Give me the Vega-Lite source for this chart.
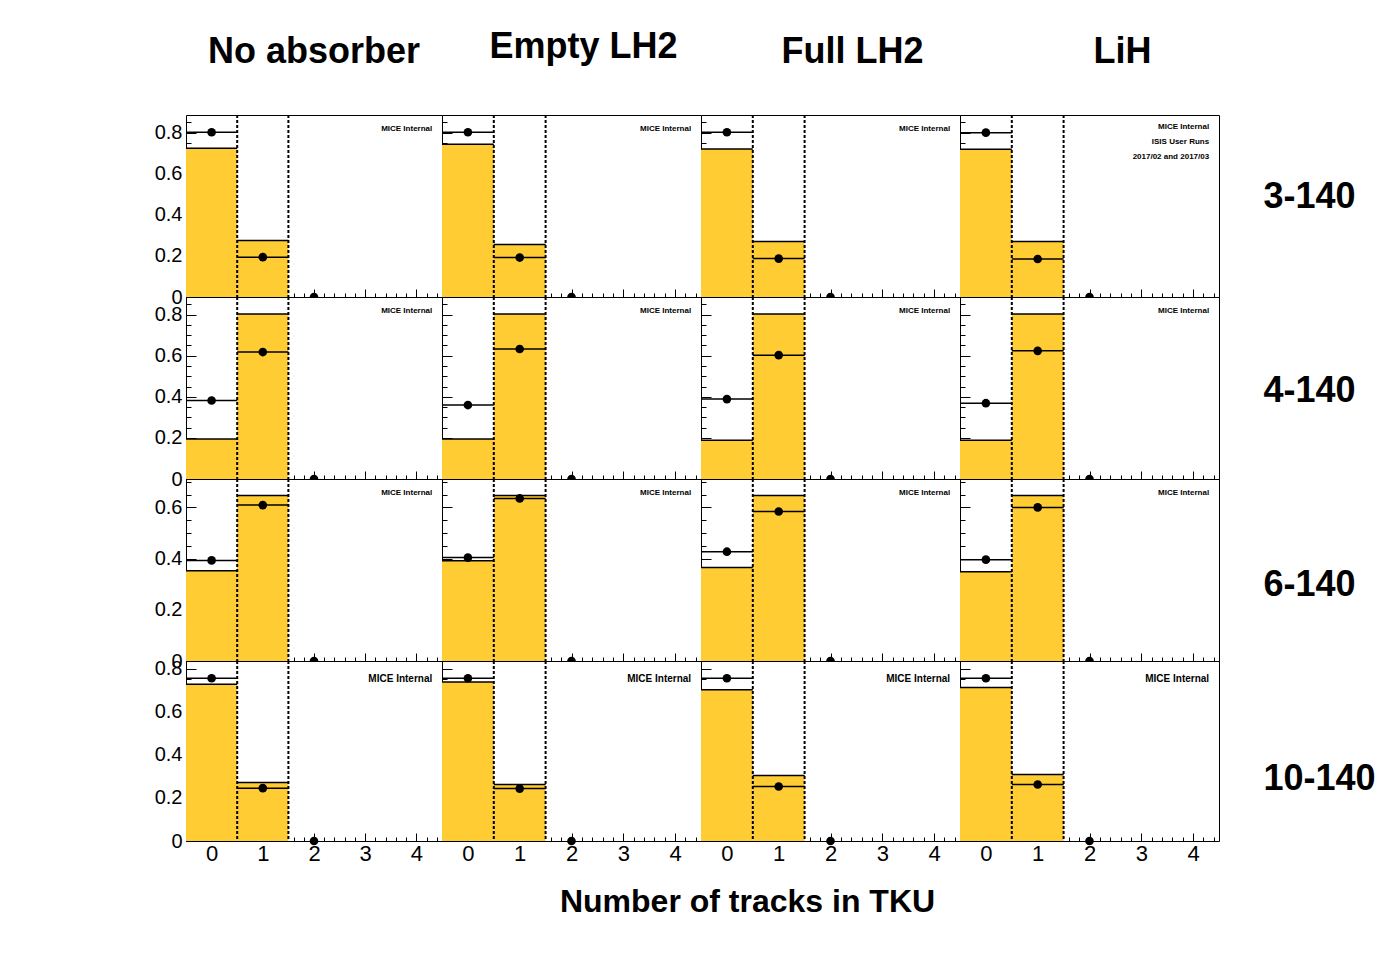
{
"$schema":"https://vega.github.io/schema/vega-lite/v6.json",
"background":"white",
"padding":{"left":153,"top":28,"right":5,"bottom":5},
"config":{"font":"Liberation Sans","view":{"stroke":"black","strokeWidth":1},
"axis":{"grid":false,"domain":false,"tickColor":"black","labelColor":"black","titleColor":"black","labelFlush":false,"tickWidth":1},
"title":{"fontSize":36,"fontWeight":"bold","baseline":"alphabetic","frame":"group","color":"black","anchor":"middle"}},
"datasets":{"h":[
{"r":"3-140","a":"No absorber","x":0,"lo":-0.5,"hi":0.5,"bar":0.724,"pt":0.802},
{"r":"3-140","a":"No absorber","x":1,"lo":0.5,"hi":1.5,"bar":0.275,"pt":0.194},
{"r":"3-140","a":"No absorber","x":2,"lo":1.5,"hi":2.5,"bar":0,"pt":0},
{"r":"3-140","a":"Empty LH2","x":0,"lo":-0.5,"hi":0.5,"bar":0.743,"pt":0.802},
{"r":"3-140","a":"Empty LH2","x":1,"lo":0.5,"hi":1.5,"bar":0.255,"pt":0.192},
{"r":"3-140","a":"Empty LH2","x":2,"lo":1.5,"hi":2.5,"bar":0,"pt":0},
{"r":"3-140","a":"Full LH2","x":0,"lo":-0.5,"hi":0.5,"bar":0.720,"pt":0.802},
{"r":"3-140","a":"Full LH2","x":1,"lo":0.5,"hi":1.5,"bar":0.270,"pt":0.187},
{"r":"3-140","a":"Full LH2","x":2,"lo":1.5,"hi":2.5,"bar":0,"pt":0},
{"r":"3-140","a":"LiH","x":0,"lo":-0.5,"hi":0.5,"bar":0.719,"pt":0.800},
{"r":"3-140","a":"LiH","x":1,"lo":0.5,"hi":1.5,"bar":0.270,"pt":0.185},
{"r":"3-140","a":"LiH","x":2,"lo":1.5,"hi":2.5,"bar":0,"pt":0},
{"r":"4-140","a":"No absorber","x":0,"lo":-0.5,"hi":0.5,"bar":0.195,"pt":0.382},
{"r":"4-140","a":"No absorber","x":1,"lo":0.5,"hi":1.5,"bar":0.803,"pt":0.618},
{"r":"4-140","a":"No absorber","x":2,"lo":1.5,"hi":2.5,"bar":0,"pt":0},
{"r":"4-140","a":"Empty LH2","x":0,"lo":-0.5,"hi":0.5,"bar":0.195,"pt":0.360},
{"r":"4-140","a":"Empty LH2","x":1,"lo":0.5,"hi":1.5,"bar":0.803,"pt":0.633},
{"r":"4-140","a":"Empty LH2","x":2,"lo":1.5,"hi":2.5,"bar":0,"pt":0},
{"r":"4-140","a":"Full LH2","x":0,"lo":-0.5,"hi":0.5,"bar":0.189,"pt":0.389},
{"r":"4-140","a":"Full LH2","x":1,"lo":0.5,"hi":1.5,"bar":0.803,"pt":0.603},
{"r":"4-140","a":"Full LH2","x":2,"lo":1.5,"hi":2.5,"bar":0,"pt":0},
{"r":"4-140","a":"LiH","x":0,"lo":-0.5,"hi":0.5,"bar":0.189,"pt":0.369},
{"r":"4-140","a":"LiH","x":1,"lo":0.5,"hi":1.5,"bar":0.803,"pt":0.624},
{"r":"4-140","a":"LiH","x":2,"lo":1.5,"hi":2.5,"bar":0,"pt":0},
{"r":"6-140","a":"No absorber","x":0,"lo":-0.5,"hi":0.5,"bar":0.353,"pt":0.393},
{"r":"6-140","a":"No absorber","x":1,"lo":0.5,"hi":1.5,"bar":0.647,"pt":0.609},
{"r":"6-140","a":"No absorber","x":2,"lo":1.5,"hi":2.5,"bar":0,"pt":0},
{"r":"6-140","a":"Empty LH2","x":0,"lo":-0.5,"hi":0.5,"bar":0.392,"pt":0.404},
{"r":"6-140","a":"Empty LH2","x":1,"lo":0.5,"hi":1.5,"bar":0.647,"pt":0.635},
{"r":"6-140","a":"Empty LH2","x":2,"lo":1.5,"hi":2.5,"bar":0,"pt":0},
{"r":"6-140","a":"Full LH2","x":0,"lo":-0.5,"hi":0.5,"bar":0.365,"pt":0.427},
{"r":"6-140","a":"Full LH2","x":1,"lo":0.5,"hi":1.5,"bar":0.647,"pt":0.584},
{"r":"6-140","a":"Full LH2","x":2,"lo":1.5,"hi":2.5,"bar":0,"pt":0},
{"r":"6-140","a":"LiH","x":0,"lo":-0.5,"hi":0.5,"bar":0.349,"pt":0.396},
{"r":"6-140","a":"LiH","x":1,"lo":0.5,"hi":1.5,"bar":0.647,"pt":0.600},
{"r":"6-140","a":"LiH","x":2,"lo":1.5,"hi":2.5,"bar":0,"pt":0},
{"r":"10-140","a":"No absorber","x":0,"lo":-0.5,"hi":0.5,"bar":0.727,"pt":0.755},
{"r":"10-140","a":"No absorber","x":1,"lo":0.5,"hi":1.5,"bar":0.271,"pt":0.245},
{"r":"10-140","a":"No absorber","x":2,"lo":1.5,"hi":2.5,"bar":0,"pt":0},
{"r":"10-140","a":"Empty LH2","x":0,"lo":-0.5,"hi":0.5,"bar":0.738,"pt":0.755},
{"r":"10-140","a":"Empty LH2","x":1,"lo":0.5,"hi":1.5,"bar":0.262,"pt":0.243},
{"r":"10-140","a":"Empty LH2","x":2,"lo":1.5,"hi":2.5,"bar":0,"pt":0},
{"r":"10-140","a":"Full LH2","x":0,"lo":-0.5,"hi":0.5,"bar":0.702,"pt":0.755},
{"r":"10-140","a":"Full LH2","x":1,"lo":0.5,"hi":1.5,"bar":0.304,"pt":0.253},
{"r":"10-140","a":"Full LH2","x":2,"lo":1.5,"hi":2.5,"bar":0,"pt":0},
{"r":"10-140","a":"LiH","x":0,"lo":-0.5,"hi":0.5,"bar":0.712,"pt":0.755},
{"r":"10-140","a":"LiH","x":1,"lo":0.5,"hi":1.5,"bar":0.309,"pt":0.262},
{"r":"10-140","a":"LiH","x":2,"lo":1.5,"hi":2.5,"bar":0,"pt":0}
]},
"data":{"name":"h"},
"spacing":0,
"bounds":"flush",
"columns":4,
"concat":[
{"width":256,"height":182,"title":{"text":"No absorber","dx":0,"offset":43},
"transform":[{"filter":"datum.r=='3-140' && datum.a=='No absorber'"}],
"layer":[
{"transform":[{"filter":"datum.x<2"}],"mark":{"type":"rect","fill":"#ffcc33"},"encoding":{"x":{"field":"lo","type":"quantitative","scale":{"domain":[-0.5,4.5],"nice":false,"zero":false},"axis":{"orient":"bottom","values":[0,1,2,3,4],"tickSize":8,"offset":-8,"labels":false,"title":null}},"x2":{"field":"hi"},"y":{"field":"bar","type":"quantitative","scale":{"domain":[0,0.886],"nice":false},"axis":{"orient":"left","values":[0,0.2,0.4,0.6,0.8],"tickSize":10,"offset":-10,"labels":false,"title":null}},"y2":{"datum":0}}},
{"transform":[{"filter":"datum.x<2"}],"mark":{"type":"rule","color":"black","strokeWidth":1.5},"encoding":{"x":{"field":"lo","type":"quantitative","scale":{"domain":[-0.5,4.5],"nice":false,"zero":false},"axis":{"orient":"bottom","values":[-0.4,-0.2,0,0.2,0.4,0.6,0.8,1,1.2,1.4,1.6,1.8,2,2.2,2.4,2.6,2.8,3,3.2,3.4,3.6,3.8,4,4.2,4.4],"tickSize":4,"offset":-4,"labels":false,"title":null}},"x2":{"field":"hi"},"y":{"field":"bar","type":"quantitative","scale":{"domain":[0,0.886],"nice":false},"axis":{"orient":"left","values":[0,0.05,0.1,0.15,0.2,0.25,0.3,0.35,0.4,0.45,0.5,0.55,0.6,0.65,0.7,0.75,0.8,0.85],"tickSize":5,"offset":-5,"labels":false,"title":null}}}},
{"transform":[{"filter":"datum.x<2"}],"mark":{"type":"rule","color":"black","strokeWidth":2,"strokeDash":[3,2]},"encoding":{"x":{"field":"hi","type":"quantitative","scale":{"domain":[-0.5,4.5],"nice":false,"zero":false},"axis":null}}},
{"transform":[{"filter":"datum.x<2"}],"mark":{"type":"rule","color":"black","strokeWidth":1.5},"encoding":{"x":{"field":"lo","type":"quantitative","scale":{"domain":[-0.5,4.5],"nice":false,"zero":false},"axis":null},"x2":{"field":"hi"},"y":{"field":"pt","type":"quantitative","scale":{"domain":[0,0.886],"nice":false},"axis":null}}},
{"mark":{"type":"circle","color":"black","opacity":1,"size":75,"clip":true},"encoding":{"x":{"field":"x","type":"quantitative","scale":{"domain":[-0.5,4.5],"nice":false,"zero":false},"axis":null},"y":{"field":"pt","type":"quantitative","scale":{"domain":[0,0.886],"nice":false},"axis":{"orient":"left","values":[0,0.2,0.4,0.6,0.8],"ticks":false,"labelFontSize":20,"labelPadding":4,"title":null,"labelExpr":"datum.value == 0 ? '0' : format(datum.value, '.1f')"}}}},
{"transform":[{"filter":"datum.x==0"}],"mark":{"type":"text","text":"MICE Internal","align":"right","baseline":"middle","fontSize":8,"fontWeight":"bold","color":"black"},"encoding":{"x":{"datum":4.31,"type":"quantitative","scale":{"domain":[-0.5,4.5],"nice":false,"zero":false},"axis":null},"y":{"datum":0.818,"type":"quantitative","scale":{"domain":[0,0.886],"nice":false},"axis":null}}}
],"resolve":{"axis":{"x":"independent","y":"independent"}}},
{"width":259,"height":182,"title":{"text":"Empty LH2","dx":12,"offset":48},
"transform":[{"filter":"datum.r=='3-140' && datum.a=='Empty LH2'"}],
"layer":[
{"transform":[{"filter":"datum.x<2"}],"mark":{"type":"rect","fill":"#ffcc33"},"encoding":{"x":{"field":"lo","type":"quantitative","scale":{"domain":[-0.5,4.5],"nice":false,"zero":false},"axis":{"orient":"bottom","values":[0,1,2,3,4],"tickSize":8,"offset":-8,"labels":false,"title":null}},"x2":{"field":"hi"},"y":{"field":"bar","type":"quantitative","scale":{"domain":[0,0.886],"nice":false},"axis":{"orient":"left","values":[0,0.2,0.4,0.6,0.8],"tickSize":10,"offset":-10,"labels":false,"title":null}},"y2":{"datum":0}}},
{"transform":[{"filter":"datum.x<2"}],"mark":{"type":"rule","color":"black","strokeWidth":1.5},"encoding":{"x":{"field":"lo","type":"quantitative","scale":{"domain":[-0.5,4.5],"nice":false,"zero":false},"axis":{"orient":"bottom","values":[-0.4,-0.2,0,0.2,0.4,0.6,0.8,1,1.2,1.4,1.6,1.8,2,2.2,2.4,2.6,2.8,3,3.2,3.4,3.6,3.8,4,4.2,4.4],"tickSize":4,"offset":-4,"labels":false,"title":null}},"x2":{"field":"hi"},"y":{"field":"bar","type":"quantitative","scale":{"domain":[0,0.886],"nice":false},"axis":{"orient":"left","values":[0,0.05,0.1,0.15,0.2,0.25,0.3,0.35,0.4,0.45,0.5,0.55,0.6,0.65,0.7,0.75,0.8,0.85],"tickSize":5,"offset":-5,"labels":false,"title":null}}}},
{"transform":[{"filter":"datum.x<2"}],"mark":{"type":"rule","color":"black","strokeWidth":2,"strokeDash":[3,2]},"encoding":{"x":{"field":"hi","type":"quantitative","scale":{"domain":[-0.5,4.5],"nice":false,"zero":false},"axis":null}}},
{"transform":[{"filter":"datum.x<2"}],"mark":{"type":"rule","color":"black","strokeWidth":1.5},"encoding":{"x":{"field":"lo","type":"quantitative","scale":{"domain":[-0.5,4.5],"nice":false,"zero":false},"axis":null},"x2":{"field":"hi"},"y":{"field":"pt","type":"quantitative","scale":{"domain":[0,0.886],"nice":false},"axis":null}}},
{"mark":{"type":"circle","color":"black","opacity":1,"size":75,"clip":true},"encoding":{"x":{"field":"x","type":"quantitative","scale":{"domain":[-0.5,4.5],"nice":false,"zero":false},"axis":null},"y":{"field":"pt","type":"quantitative","scale":{"domain":[0,0.886],"nice":false},"axis":null}}},
{"transform":[{"filter":"datum.x==0"}],"mark":{"type":"text","text":"MICE Internal","align":"right","baseline":"middle","fontSize":8,"fontWeight":"bold","color":"black"},"encoding":{"x":{"datum":4.31,"type":"quantitative","scale":{"domain":[-0.5,4.5],"nice":false,"zero":false},"axis":null},"y":{"datum":0.818,"type":"quantitative","scale":{"domain":[0,0.886],"nice":false},"axis":null}}}
],"resolve":{"axis":{"x":"independent","y":"independent"}}},
{"width":259,"height":182,"title":{"text":"Full LH2","dx":22,"offset":43},
"transform":[{"filter":"datum.r=='3-140' && datum.a=='Full LH2'"}],
"layer":[
{"transform":[{"filter":"datum.x<2"}],"mark":{"type":"rect","fill":"#ffcc33"},"encoding":{"x":{"field":"lo","type":"quantitative","scale":{"domain":[-0.5,4.5],"nice":false,"zero":false},"axis":{"orient":"bottom","values":[0,1,2,3,4],"tickSize":8,"offset":-8,"labels":false,"title":null}},"x2":{"field":"hi"},"y":{"field":"bar","type":"quantitative","scale":{"domain":[0,0.886],"nice":false},"axis":{"orient":"left","values":[0,0.2,0.4,0.6,0.8],"tickSize":10,"offset":-10,"labels":false,"title":null}},"y2":{"datum":0}}},
{"transform":[{"filter":"datum.x<2"}],"mark":{"type":"rule","color":"black","strokeWidth":1.5},"encoding":{"x":{"field":"lo","type":"quantitative","scale":{"domain":[-0.5,4.5],"nice":false,"zero":false},"axis":{"orient":"bottom","values":[-0.4,-0.2,0,0.2,0.4,0.6,0.8,1,1.2,1.4,1.6,1.8,2,2.2,2.4,2.6,2.8,3,3.2,3.4,3.6,3.8,4,4.2,4.4],"tickSize":4,"offset":-4,"labels":false,"title":null}},"x2":{"field":"hi"},"y":{"field":"bar","type":"quantitative","scale":{"domain":[0,0.886],"nice":false},"axis":{"orient":"left","values":[0,0.05,0.1,0.15,0.2,0.25,0.3,0.35,0.4,0.45,0.5,0.55,0.6,0.65,0.7,0.75,0.8,0.85],"tickSize":5,"offset":-5,"labels":false,"title":null}}}},
{"transform":[{"filter":"datum.x<2"}],"mark":{"type":"rule","color":"black","strokeWidth":2,"strokeDash":[3,2]},"encoding":{"x":{"field":"hi","type":"quantitative","scale":{"domain":[-0.5,4.5],"nice":false,"zero":false},"axis":null}}},
{"transform":[{"filter":"datum.x<2"}],"mark":{"type":"rule","color":"black","strokeWidth":1.5},"encoding":{"x":{"field":"lo","type":"quantitative","scale":{"domain":[-0.5,4.5],"nice":false,"zero":false},"axis":null},"x2":{"field":"hi"},"y":{"field":"pt","type":"quantitative","scale":{"domain":[0,0.886],"nice":false},"axis":null}}},
{"mark":{"type":"circle","color":"black","opacity":1,"size":75,"clip":true},"encoding":{"x":{"field":"x","type":"quantitative","scale":{"domain":[-0.5,4.5],"nice":false,"zero":false},"axis":null},"y":{"field":"pt","type":"quantitative","scale":{"domain":[0,0.886],"nice":false},"axis":null}}},
{"transform":[{"filter":"datum.x==0"}],"mark":{"type":"text","text":"MICE Internal","align":"right","baseline":"middle","fontSize":8,"fontWeight":"bold","color":"black"},"encoding":{"x":{"datum":4.31,"type":"quantitative","scale":{"domain":[-0.5,4.5],"nice":false,"zero":false},"axis":null},"y":{"datum":0.818,"type":"quantitative","scale":{"domain":[0,0.886],"nice":false},"axis":null}}}
],"resolve":{"axis":{"x":"independent","y":"independent"}}},
{"width":259,"height":182,"title":{"text":"LiH","dx":33,"offset":43},
"transform":[{"filter":"datum.r=='3-140' && datum.a=='LiH'"}],
"layer":[
{"transform":[{"filter":"datum.x<2"}],"mark":{"type":"rect","fill":"#ffcc33"},"encoding":{"x":{"field":"lo","type":"quantitative","scale":{"domain":[-0.5,4.5],"nice":false,"zero":false},"axis":{"orient":"bottom","values":[0,1,2,3,4],"tickSize":8,"offset":-8,"labels":false,"title":null}},"x2":{"field":"hi"},"y":{"field":"bar","type":"quantitative","scale":{"domain":[0,0.886],"nice":false},"axis":{"orient":"left","values":[0,0.2,0.4,0.6,0.8],"tickSize":10,"offset":-10,"labels":false,"title":null}},"y2":{"datum":0}}},
{"transform":[{"filter":"datum.x<2"}],"mark":{"type":"rule","color":"black","strokeWidth":1.5},"encoding":{"x":{"field":"lo","type":"quantitative","scale":{"domain":[-0.5,4.5],"nice":false,"zero":false},"axis":{"orient":"bottom","values":[-0.4,-0.2,0,0.2,0.4,0.6,0.8,1,1.2,1.4,1.6,1.8,2,2.2,2.4,2.6,2.8,3,3.2,3.4,3.6,3.8,4,4.2,4.4],"tickSize":4,"offset":-4,"labels":false,"title":null}},"x2":{"field":"hi"},"y":{"field":"bar","type":"quantitative","scale":{"domain":[0,0.886],"nice":false},"axis":{"orient":"left","values":[0,0.05,0.1,0.15,0.2,0.25,0.3,0.35,0.4,0.45,0.5,0.55,0.6,0.65,0.7,0.75,0.8,0.85],"tickSize":5,"offset":-5,"labels":false,"title":null}}}},
{"transform":[{"filter":"datum.x<2"}],"mark":{"type":"rule","color":"black","strokeWidth":2,"strokeDash":[3,2]},"encoding":{"x":{"field":"hi","type":"quantitative","scale":{"domain":[-0.5,4.5],"nice":false,"zero":false},"axis":null}}},
{"transform":[{"filter":"datum.x<2"}],"mark":{"type":"rule","color":"black","strokeWidth":1.5},"encoding":{"x":{"field":"lo","type":"quantitative","scale":{"domain":[-0.5,4.5],"nice":false,"zero":false},"axis":null},"x2":{"field":"hi"},"y":{"field":"pt","type":"quantitative","scale":{"domain":[0,0.886],"nice":false},"axis":{"orient":"right","values":[],"ticks":false,"labels":false,"title":"3-140","titleAngle":0,"titleFontSize":36,"titleFontWeight":"bold","titleAlign":"left","titleBaseline":"middle","titleX":44,"titleY":81}}}},
{"mark":{"type":"circle","color":"black","opacity":1,"size":75,"clip":true},"encoding":{"x":{"field":"x","type":"quantitative","scale":{"domain":[-0.5,4.5],"nice":false,"zero":false},"axis":null},"y":{"field":"pt","type":"quantitative","scale":{"domain":[0,0.886],"nice":false},"axis":null}}},
{"transform":[{"filter":"datum.x==0"}],"mark":{"type":"text","text":"MICE Internal\nISIS User Runs\n2017/02 and 2017/03","lineBreak":"\n","lineHeight":15,"align":"right","baseline":"middle","fontSize":8,"fontWeight":"bold","color":"black"},"encoding":{"x":{"datum":4.31,"type":"quantitative","scale":{"domain":[-0.5,4.5],"nice":false,"zero":false},"axis":null},"y":{"datum":0.828,"type":"quantitative","scale":{"domain":[0,0.886],"nice":false},"axis":null}}}
],"resolve":{"axis":{"x":"independent","y":"independent"}}},
{"width":256,"height":182,
"transform":[{"filter":"datum.r=='4-140' && datum.a=='No absorber'"}],
"layer":[
{"transform":[{"filter":"datum.x<2"}],"mark":{"type":"rect","fill":"#ffcc33"},"encoding":{"x":{"field":"lo","type":"quantitative","scale":{"domain":[-0.5,4.5],"nice":false,"zero":false},"axis":{"orient":"bottom","values":[0,1,2,3,4],"tickSize":8,"offset":-8,"labels":false,"title":null}},"x2":{"field":"hi"},"y":{"field":"bar","type":"quantitative","scale":{"domain":[0,0.886],"nice":false},"axis":{"orient":"left","values":[0,0.2,0.4,0.6,0.8],"tickSize":10,"offset":-10,"labels":false,"title":null}},"y2":{"datum":0}}},
{"transform":[{"filter":"datum.x<2"}],"mark":{"type":"rule","color":"black","strokeWidth":1.5},"encoding":{"x":{"field":"lo","type":"quantitative","scale":{"domain":[-0.5,4.5],"nice":false,"zero":false},"axis":{"orient":"bottom","values":[-0.4,-0.2,0,0.2,0.4,0.6,0.8,1,1.2,1.4,1.6,1.8,2,2.2,2.4,2.6,2.8,3,3.2,3.4,3.6,3.8,4,4.2,4.4],"tickSize":4,"offset":-4,"labels":false,"title":null}},"x2":{"field":"hi"},"y":{"field":"bar","type":"quantitative","scale":{"domain":[0,0.886],"nice":false},"axis":{"orient":"left","values":[0,0.05,0.1,0.15,0.2,0.25,0.3,0.35,0.4,0.45,0.5,0.55,0.6,0.65,0.7,0.75,0.8,0.85],"tickSize":5,"offset":-5,"labels":false,"title":null}}}},
{"transform":[{"filter":"datum.x<2"}],"mark":{"type":"rule","color":"black","strokeWidth":2,"strokeDash":[3,2]},"encoding":{"x":{"field":"hi","type":"quantitative","scale":{"domain":[-0.5,4.5],"nice":false,"zero":false},"axis":null}}},
{"transform":[{"filter":"datum.x<2"}],"mark":{"type":"rule","color":"black","strokeWidth":1.5},"encoding":{"x":{"field":"lo","type":"quantitative","scale":{"domain":[-0.5,4.5],"nice":false,"zero":false},"axis":null},"x2":{"field":"hi"},"y":{"field":"pt","type":"quantitative","scale":{"domain":[0,0.886],"nice":false},"axis":null}}},
{"mark":{"type":"circle","color":"black","opacity":1,"size":75,"clip":true},"encoding":{"x":{"field":"x","type":"quantitative","scale":{"domain":[-0.5,4.5],"nice":false,"zero":false},"axis":null},"y":{"field":"pt","type":"quantitative","scale":{"domain":[0,0.886],"nice":false},"axis":{"orient":"left","values":[0,0.2,0.4,0.6,0.8],"ticks":false,"labelFontSize":20,"labelPadding":4,"title":null,"labelExpr":"datum.value == 0 ? '0' : format(datum.value, '.1f')"}}}},
{"transform":[{"filter":"datum.x==0"}],"mark":{"type":"text","text":"MICE Internal","align":"right","baseline":"middle","fontSize":8,"fontWeight":"bold","color":"black"},"encoding":{"x":{"datum":4.31,"type":"quantitative","scale":{"domain":[-0.5,4.5],"nice":false,"zero":false},"axis":null},"y":{"datum":0.818,"type":"quantitative","scale":{"domain":[0,0.886],"nice":false},"axis":null}}}
],"resolve":{"axis":{"x":"independent","y":"independent"}}},
{"width":259,"height":182,
"transform":[{"filter":"datum.r=='4-140' && datum.a=='Empty LH2'"}],
"layer":[
{"transform":[{"filter":"datum.x<2"}],"mark":{"type":"rect","fill":"#ffcc33"},"encoding":{"x":{"field":"lo","type":"quantitative","scale":{"domain":[-0.5,4.5],"nice":false,"zero":false},"axis":{"orient":"bottom","values":[0,1,2,3,4],"tickSize":8,"offset":-8,"labels":false,"title":null}},"x2":{"field":"hi"},"y":{"field":"bar","type":"quantitative","scale":{"domain":[0,0.886],"nice":false},"axis":{"orient":"left","values":[0,0.2,0.4,0.6,0.8],"tickSize":10,"offset":-10,"labels":false,"title":null}},"y2":{"datum":0}}},
{"transform":[{"filter":"datum.x<2"}],"mark":{"type":"rule","color":"black","strokeWidth":1.5},"encoding":{"x":{"field":"lo","type":"quantitative","scale":{"domain":[-0.5,4.5],"nice":false,"zero":false},"axis":{"orient":"bottom","values":[-0.4,-0.2,0,0.2,0.4,0.6,0.8,1,1.2,1.4,1.6,1.8,2,2.2,2.4,2.6,2.8,3,3.2,3.4,3.6,3.8,4,4.2,4.4],"tickSize":4,"offset":-4,"labels":false,"title":null}},"x2":{"field":"hi"},"y":{"field":"bar","type":"quantitative","scale":{"domain":[0,0.886],"nice":false},"axis":{"orient":"left","values":[0,0.05,0.1,0.15,0.2,0.25,0.3,0.35,0.4,0.45,0.5,0.55,0.6,0.65,0.7,0.75,0.8,0.85],"tickSize":5,"offset":-5,"labels":false,"title":null}}}},
{"transform":[{"filter":"datum.x<2"}],"mark":{"type":"rule","color":"black","strokeWidth":2,"strokeDash":[3,2]},"encoding":{"x":{"field":"hi","type":"quantitative","scale":{"domain":[-0.5,4.5],"nice":false,"zero":false},"axis":null}}},
{"transform":[{"filter":"datum.x<2"}],"mark":{"type":"rule","color":"black","strokeWidth":1.5},"encoding":{"x":{"field":"lo","type":"quantitative","scale":{"domain":[-0.5,4.5],"nice":false,"zero":false},"axis":null},"x2":{"field":"hi"},"y":{"field":"pt","type":"quantitative","scale":{"domain":[0,0.886],"nice":false},"axis":null}}},
{"mark":{"type":"circle","color":"black","opacity":1,"size":75,"clip":true},"encoding":{"x":{"field":"x","type":"quantitative","scale":{"domain":[-0.5,4.5],"nice":false,"zero":false},"axis":null},"y":{"field":"pt","type":"quantitative","scale":{"domain":[0,0.886],"nice":false},"axis":null}}},
{"transform":[{"filter":"datum.x==0"}],"mark":{"type":"text","text":"MICE Internal","align":"right","baseline":"middle","fontSize":8,"fontWeight":"bold","color":"black"},"encoding":{"x":{"datum":4.31,"type":"quantitative","scale":{"domain":[-0.5,4.5],"nice":false,"zero":false},"axis":null},"y":{"datum":0.818,"type":"quantitative","scale":{"domain":[0,0.886],"nice":false},"axis":null}}}
],"resolve":{"axis":{"x":"independent","y":"independent"}}},
{"width":259,"height":182,
"transform":[{"filter":"datum.r=='4-140' && datum.a=='Full LH2'"}],
"layer":[
{"transform":[{"filter":"datum.x<2"}],"mark":{"type":"rect","fill":"#ffcc33"},"encoding":{"x":{"field":"lo","type":"quantitative","scale":{"domain":[-0.5,4.5],"nice":false,"zero":false},"axis":{"orient":"bottom","values":[0,1,2,3,4],"tickSize":8,"offset":-8,"labels":false,"title":null}},"x2":{"field":"hi"},"y":{"field":"bar","type":"quantitative","scale":{"domain":[0,0.886],"nice":false},"axis":{"orient":"left","values":[0,0.2,0.4,0.6,0.8],"tickSize":10,"offset":-10,"labels":false,"title":null}},"y2":{"datum":0}}},
{"transform":[{"filter":"datum.x<2"}],"mark":{"type":"rule","color":"black","strokeWidth":1.5},"encoding":{"x":{"field":"lo","type":"quantitative","scale":{"domain":[-0.5,4.5],"nice":false,"zero":false},"axis":{"orient":"bottom","values":[-0.4,-0.2,0,0.2,0.4,0.6,0.8,1,1.2,1.4,1.6,1.8,2,2.2,2.4,2.6,2.8,3,3.2,3.4,3.6,3.8,4,4.2,4.4],"tickSize":4,"offset":-4,"labels":false,"title":null}},"x2":{"field":"hi"},"y":{"field":"bar","type":"quantitative","scale":{"domain":[0,0.886],"nice":false},"axis":{"orient":"left","values":[0,0.05,0.1,0.15,0.2,0.25,0.3,0.35,0.4,0.45,0.5,0.55,0.6,0.65,0.7,0.75,0.8,0.85],"tickSize":5,"offset":-5,"labels":false,"title":null}}}},
{"transform":[{"filter":"datum.x<2"}],"mark":{"type":"rule","color":"black","strokeWidth":2,"strokeDash":[3,2]},"encoding":{"x":{"field":"hi","type":"quantitative","scale":{"domain":[-0.5,4.5],"nice":false,"zero":false},"axis":null}}},
{"transform":[{"filter":"datum.x<2"}],"mark":{"type":"rule","color":"black","strokeWidth":1.5},"encoding":{"x":{"field":"lo","type":"quantitative","scale":{"domain":[-0.5,4.5],"nice":false,"zero":false},"axis":null},"x2":{"field":"hi"},"y":{"field":"pt","type":"quantitative","scale":{"domain":[0,0.886],"nice":false},"axis":null}}},
{"mark":{"type":"circle","color":"black","opacity":1,"size":75,"clip":true},"encoding":{"x":{"field":"x","type":"quantitative","scale":{"domain":[-0.5,4.5],"nice":false,"zero":false},"axis":null},"y":{"field":"pt","type":"quantitative","scale":{"domain":[0,0.886],"nice":false},"axis":null}}},
{"transform":[{"filter":"datum.x==0"}],"mark":{"type":"text","text":"MICE Internal","align":"right","baseline":"middle","fontSize":8,"fontWeight":"bold","color":"black"},"encoding":{"x":{"datum":4.31,"type":"quantitative","scale":{"domain":[-0.5,4.5],"nice":false,"zero":false},"axis":null},"y":{"datum":0.818,"type":"quantitative","scale":{"domain":[0,0.886],"nice":false},"axis":null}}}
],"resolve":{"axis":{"x":"independent","y":"independent"}}},
{"width":259,"height":182,
"transform":[{"filter":"datum.r=='4-140' && datum.a=='LiH'"}],
"layer":[
{"transform":[{"filter":"datum.x<2"}],"mark":{"type":"rect","fill":"#ffcc33"},"encoding":{"x":{"field":"lo","type":"quantitative","scale":{"domain":[-0.5,4.5],"nice":false,"zero":false},"axis":{"orient":"bottom","values":[0,1,2,3,4],"tickSize":8,"offset":-8,"labels":false,"title":null}},"x2":{"field":"hi"},"y":{"field":"bar","type":"quantitative","scale":{"domain":[0,0.886],"nice":false},"axis":{"orient":"left","values":[0,0.2,0.4,0.6,0.8],"tickSize":10,"offset":-10,"labels":false,"title":null}},"y2":{"datum":0}}},
{"transform":[{"filter":"datum.x<2"}],"mark":{"type":"rule","color":"black","strokeWidth":1.5},"encoding":{"x":{"field":"lo","type":"quantitative","scale":{"domain":[-0.5,4.5],"nice":false,"zero":false},"axis":{"orient":"bottom","values":[-0.4,-0.2,0,0.2,0.4,0.6,0.8,1,1.2,1.4,1.6,1.8,2,2.2,2.4,2.6,2.8,3,3.2,3.4,3.6,3.8,4,4.2,4.4],"tickSize":4,"offset":-4,"labels":false,"title":null}},"x2":{"field":"hi"},"y":{"field":"bar","type":"quantitative","scale":{"domain":[0,0.886],"nice":false},"axis":{"orient":"left","values":[0,0.05,0.1,0.15,0.2,0.25,0.3,0.35,0.4,0.45,0.5,0.55,0.6,0.65,0.7,0.75,0.8,0.85],"tickSize":5,"offset":-5,"labels":false,"title":null}}}},
{"transform":[{"filter":"datum.x<2"}],"mark":{"type":"rule","color":"black","strokeWidth":2,"strokeDash":[3,2]},"encoding":{"x":{"field":"hi","type":"quantitative","scale":{"domain":[-0.5,4.5],"nice":false,"zero":false},"axis":null}}},
{"transform":[{"filter":"datum.x<2"}],"mark":{"type":"rule","color":"black","strokeWidth":1.5},"encoding":{"x":{"field":"lo","type":"quantitative","scale":{"domain":[-0.5,4.5],"nice":false,"zero":false},"axis":null},"x2":{"field":"hi"},"y":{"field":"pt","type":"quantitative","scale":{"domain":[0,0.886],"nice":false},"axis":{"orient":"right","values":[],"ticks":false,"labels":false,"title":"4-140","titleAngle":0,"titleFontSize":36,"titleFontWeight":"bold","titleAlign":"left","titleBaseline":"middle","titleX":44,"titleY":93}}}},
{"mark":{"type":"circle","color":"black","opacity":1,"size":75,"clip":true},"encoding":{"x":{"field":"x","type":"quantitative","scale":{"domain":[-0.5,4.5],"nice":false,"zero":false},"axis":null},"y":{"field":"pt","type":"quantitative","scale":{"domain":[0,0.886],"nice":false},"axis":null}}},
{"transform":[{"filter":"datum.x==0"}],"mark":{"type":"text","text":"MICE Internal","align":"right","baseline":"middle","fontSize":8,"fontWeight":"bold","color":"black"},"encoding":{"x":{"datum":4.31,"type":"quantitative","scale":{"domain":[-0.5,4.5],"nice":false,"zero":false},"axis":null},"y":{"datum":0.818,"type":"quantitative","scale":{"domain":[0,0.886],"nice":false},"axis":null}}}
],"resolve":{"axis":{"x":"independent","y":"independent"}}},
{"width":256,"height":182,
"transform":[{"filter":"datum.r=='6-140' && datum.a=='No absorber'"}],
"layer":[
{"transform":[{"filter":"datum.x<2"}],"mark":{"type":"rect","fill":"#ffcc33"},"encoding":{"x":{"field":"lo","type":"quantitative","scale":{"domain":[-0.5,4.5],"nice":false,"zero":false},"axis":{"orient":"bottom","values":[0,1,2,3,4],"tickSize":8,"offset":-8,"labels":false,"title":null}},"x2":{"field":"hi"},"y":{"field":"bar","type":"quantitative","scale":{"domain":[0,0.711],"nice":false},"axis":{"orient":"left","values":[0,0.2,0.4,0.6],"tickSize":10,"offset":-10,"labels":false,"title":null}},"y2":{"datum":0}}},
{"transform":[{"filter":"datum.x<2"}],"mark":{"type":"rule","color":"black","strokeWidth":1.5},"encoding":{"x":{"field":"lo","type":"quantitative","scale":{"domain":[-0.5,4.5],"nice":false,"zero":false},"axis":{"orient":"bottom","values":[-0.4,-0.2,0,0.2,0.4,0.6,0.8,1,1.2,1.4,1.6,1.8,2,2.2,2.4,2.6,2.8,3,3.2,3.4,3.6,3.8,4,4.2,4.4],"tickSize":4,"offset":-4,"labels":false,"title":null}},"x2":{"field":"hi"},"y":{"field":"bar","type":"quantitative","scale":{"domain":[0,0.711],"nice":false},"axis":{"orient":"left","values":[0,0.05,0.1,0.15,0.2,0.25,0.3,0.35,0.4,0.45,0.5,0.55,0.6,0.65,0.7],"tickSize":5,"offset":-5,"labels":false,"title":null}}}},
{"transform":[{"filter":"datum.x<2"}],"mark":{"type":"rule","color":"black","strokeWidth":2,"strokeDash":[3,2]},"encoding":{"x":{"field":"hi","type":"quantitative","scale":{"domain":[-0.5,4.5],"nice":false,"zero":false},"axis":null}}},
{"transform":[{"filter":"datum.x<2"}],"mark":{"type":"rule","color":"black","strokeWidth":1.5},"encoding":{"x":{"field":"lo","type":"quantitative","scale":{"domain":[-0.5,4.5],"nice":false,"zero":false},"axis":null},"x2":{"field":"hi"},"y":{"field":"pt","type":"quantitative","scale":{"domain":[0,0.711],"nice":false},"axis":null}}},
{"mark":{"type":"circle","color":"black","opacity":1,"size":75,"clip":true},"encoding":{"x":{"field":"x","type":"quantitative","scale":{"domain":[-0.5,4.5],"nice":false,"zero":false},"axis":null},"y":{"field":"pt","type":"quantitative","scale":{"domain":[0,0.711],"nice":false},"axis":{"orient":"left","values":[0,0.2,0.4,0.6],"ticks":false,"labelFontSize":20,"labelPadding":4,"title":null,"labelExpr":"datum.value == 0 ? '0' : format(datum.value, '.1f')"}}}},
{"transform":[{"filter":"datum.x==0"}],"mark":{"type":"text","text":"MICE Internal","align":"right","baseline":"middle","fontSize":8,"fontWeight":"bold","color":"black"},"encoding":{"x":{"datum":4.31,"type":"quantitative","scale":{"domain":[-0.5,4.5],"nice":false,"zero":false},"axis":null},"y":{"datum":0.656,"type":"quantitative","scale":{"domain":[0,0.711],"nice":false},"axis":null}}}
],"resolve":{"axis":{"x":"independent","y":"independent"}}},
{"width":259,"height":182,
"transform":[{"filter":"datum.r=='6-140' && datum.a=='Empty LH2'"}],
"layer":[
{"transform":[{"filter":"datum.x<2"}],"mark":{"type":"rect","fill":"#ffcc33"},"encoding":{"x":{"field":"lo","type":"quantitative","scale":{"domain":[-0.5,4.5],"nice":false,"zero":false},"axis":{"orient":"bottom","values":[0,1,2,3,4],"tickSize":8,"offset":-8,"labels":false,"title":null}},"x2":{"field":"hi"},"y":{"field":"bar","type":"quantitative","scale":{"domain":[0,0.711],"nice":false},"axis":{"orient":"left","values":[0,0.2,0.4,0.6],"tickSize":10,"offset":-10,"labels":false,"title":null}},"y2":{"datum":0}}},
{"transform":[{"filter":"datum.x<2"}],"mark":{"type":"rule","color":"black","strokeWidth":1.5},"encoding":{"x":{"field":"lo","type":"quantitative","scale":{"domain":[-0.5,4.5],"nice":false,"zero":false},"axis":{"orient":"bottom","values":[-0.4,-0.2,0,0.2,0.4,0.6,0.8,1,1.2,1.4,1.6,1.8,2,2.2,2.4,2.6,2.8,3,3.2,3.4,3.6,3.8,4,4.2,4.4],"tickSize":4,"offset":-4,"labels":false,"title":null}},"x2":{"field":"hi"},"y":{"field":"bar","type":"quantitative","scale":{"domain":[0,0.711],"nice":false},"axis":{"orient":"left","values":[0,0.05,0.1,0.15,0.2,0.25,0.3,0.35,0.4,0.45,0.5,0.55,0.6,0.65,0.7],"tickSize":5,"offset":-5,"labels":false,"title":null}}}},
{"transform":[{"filter":"datum.x<2"}],"mark":{"type":"rule","color":"black","strokeWidth":2,"strokeDash":[3,2]},"encoding":{"x":{"field":"hi","type":"quantitative","scale":{"domain":[-0.5,4.5],"nice":false,"zero":false},"axis":null}}},
{"transform":[{"filter":"datum.x<2"}],"mark":{"type":"rule","color":"black","strokeWidth":1.5},"encoding":{"x":{"field":"lo","type":"quantitative","scale":{"domain":[-0.5,4.5],"nice":false,"zero":false},"axis":null},"x2":{"field":"hi"},"y":{"field":"pt","type":"quantitative","scale":{"domain":[0,0.711],"nice":false},"axis":null}}},
{"mark":{"type":"circle","color":"black","opacity":1,"size":75,"clip":true},"encoding":{"x":{"field":"x","type":"quantitative","scale":{"domain":[-0.5,4.5],"nice":false,"zero":false},"axis":null},"y":{"field":"pt","type":"quantitative","scale":{"domain":[0,0.711],"nice":false},"axis":null}}},
{"transform":[{"filter":"datum.x==0"}],"mark":{"type":"text","text":"MICE Internal","align":"right","baseline":"middle","fontSize":8,"fontWeight":"bold","color":"black"},"encoding":{"x":{"datum":4.31,"type":"quantitative","scale":{"domain":[-0.5,4.5],"nice":false,"zero":false},"axis":null},"y":{"datum":0.656,"type":"quantitative","scale":{"domain":[0,0.711],"nice":false},"axis":null}}}
],"resolve":{"axis":{"x":"independent","y":"independent"}}},
{"width":259,"height":182,
"transform":[{"filter":"datum.r=='6-140' && datum.a=='Full LH2'"}],
"layer":[
{"transform":[{"filter":"datum.x<2"}],"mark":{"type":"rect","fill":"#ffcc33"},"encoding":{"x":{"field":"lo","type":"quantitative","scale":{"domain":[-0.5,4.5],"nice":false,"zero":false},"axis":{"orient":"bottom","values":[0,1,2,3,4],"tickSize":8,"offset":-8,"labels":false,"title":null}},"x2":{"field":"hi"},"y":{"field":"bar","type":"quantitative","scale":{"domain":[0,0.711],"nice":false},"axis":{"orient":"left","values":[0,0.2,0.4,0.6],"tickSize":10,"offset":-10,"labels":false,"title":null}},"y2":{"datum":0}}},
{"transform":[{"filter":"datum.x<2"}],"mark":{"type":"rule","color":"black","strokeWidth":1.5},"encoding":{"x":{"field":"lo","type":"quantitative","scale":{"domain":[-0.5,4.5],"nice":false,"zero":false},"axis":{"orient":"bottom","values":[-0.4,-0.2,0,0.2,0.4,0.6,0.8,1,1.2,1.4,1.6,1.8,2,2.2,2.4,2.6,2.8,3,3.2,3.4,3.6,3.8,4,4.2,4.4],"tickSize":4,"offset":-4,"labels":false,"title":null}},"x2":{"field":"hi"},"y":{"field":"bar","type":"quantitative","scale":{"domain":[0,0.711],"nice":false},"axis":{"orient":"left","values":[0,0.05,0.1,0.15,0.2,0.25,0.3,0.35,0.4,0.45,0.5,0.55,0.6,0.65,0.7],"tickSize":5,"offset":-5,"labels":false,"title":null}}}},
{"transform":[{"filter":"datum.x<2"}],"mark":{"type":"rule","color":"black","strokeWidth":2,"strokeDash":[3,2]},"encoding":{"x":{"field":"hi","type":"quantitative","scale":{"domain":[-0.5,4.5],"nice":false,"zero":false},"axis":null}}},
{"transform":[{"filter":"datum.x<2"}],"mark":{"type":"rule","color":"black","strokeWidth":1.5},"encoding":{"x":{"field":"lo","type":"quantitative","scale":{"domain":[-0.5,4.5],"nice":false,"zero":false},"axis":null},"x2":{"field":"hi"},"y":{"field":"pt","type":"quantitative","scale":{"domain":[0,0.711],"nice":false},"axis":null}}},
{"mark":{"type":"circle","color":"black","opacity":1,"size":75,"clip":true},"encoding":{"x":{"field":"x","type":"quantitative","scale":{"domain":[-0.5,4.5],"nice":false,"zero":false},"axis":null},"y":{"field":"pt","type":"quantitative","scale":{"domain":[0,0.711],"nice":false},"axis":null}}},
{"transform":[{"filter":"datum.x==0"}],"mark":{"type":"text","text":"MICE Internal","align":"right","baseline":"middle","fontSize":8,"fontWeight":"bold","color":"black"},"encoding":{"x":{"datum":4.31,"type":"quantitative","scale":{"domain":[-0.5,4.5],"nice":false,"zero":false},"axis":null},"y":{"datum":0.656,"type":"quantitative","scale":{"domain":[0,0.711],"nice":false},"axis":null}}}
],"resolve":{"axis":{"x":"independent","y":"independent"}}},
{"width":259,"height":182,
"transform":[{"filter":"datum.r=='6-140' && datum.a=='LiH'"}],
"layer":[
{"transform":[{"filter":"datum.x<2"}],"mark":{"type":"rect","fill":"#ffcc33"},"encoding":{"x":{"field":"lo","type":"quantitative","scale":{"domain":[-0.5,4.5],"nice":false,"zero":false},"axis":{"orient":"bottom","values":[0,1,2,3,4],"tickSize":8,"offset":-8,"labels":false,"title":null}},"x2":{"field":"hi"},"y":{"field":"bar","type":"quantitative","scale":{"domain":[0,0.711],"nice":false},"axis":{"orient":"left","values":[0,0.2,0.4,0.6],"tickSize":10,"offset":-10,"labels":false,"title":null}},"y2":{"datum":0}}},
{"transform":[{"filter":"datum.x<2"}],"mark":{"type":"rule","color":"black","strokeWidth":1.5},"encoding":{"x":{"field":"lo","type":"quantitative","scale":{"domain":[-0.5,4.5],"nice":false,"zero":false},"axis":{"orient":"bottom","values":[-0.4,-0.2,0,0.2,0.4,0.6,0.8,1,1.2,1.4,1.6,1.8,2,2.2,2.4,2.6,2.8,3,3.2,3.4,3.6,3.8,4,4.2,4.4],"tickSize":4,"offset":-4,"labels":false,"title":null}},"x2":{"field":"hi"},"y":{"field":"bar","type":"quantitative","scale":{"domain":[0,0.711],"nice":false},"axis":{"orient":"left","values":[0,0.05,0.1,0.15,0.2,0.25,0.3,0.35,0.4,0.45,0.5,0.55,0.6,0.65,0.7],"tickSize":5,"offset":-5,"labels":false,"title":null}}}},
{"transform":[{"filter":"datum.x<2"}],"mark":{"type":"rule","color":"black","strokeWidth":2,"strokeDash":[3,2]},"encoding":{"x":{"field":"hi","type":"quantitative","scale":{"domain":[-0.5,4.5],"nice":false,"zero":false},"axis":null}}},
{"transform":[{"filter":"datum.x<2"}],"mark":{"type":"rule","color":"black","strokeWidth":1.5},"encoding":{"x":{"field":"lo","type":"quantitative","scale":{"domain":[-0.5,4.5],"nice":false,"zero":false},"axis":null},"x2":{"field":"hi"},"y":{"field":"pt","type":"quantitative","scale":{"domain":[0,0.711],"nice":false},"axis":{"orient":"right","values":[],"ticks":false,"labels":false,"title":"6-140","titleAngle":0,"titleFontSize":36,"titleFontWeight":"bold","titleAlign":"left","titleBaseline":"middle","titleX":44,"titleY":105}}}},
{"mark":{"type":"circle","color":"black","opacity":1,"size":75,"clip":true},"encoding":{"x":{"field":"x","type":"quantitative","scale":{"domain":[-0.5,4.5],"nice":false,"zero":false},"axis":null},"y":{"field":"pt","type":"quantitative","scale":{"domain":[0,0.711],"nice":false},"axis":null}}},
{"transform":[{"filter":"datum.x==0"}],"mark":{"type":"text","text":"MICE Internal","align":"right","baseline":"middle","fontSize":8,"fontWeight":"bold","color":"black"},"encoding":{"x":{"datum":4.31,"type":"quantitative","scale":{"domain":[-0.5,4.5],"nice":false,"zero":false},"axis":null},"y":{"datum":0.656,"type":"quantitative","scale":{"domain":[0,0.711],"nice":false},"axis":null}}}
],"resolve":{"axis":{"x":"independent","y":"independent"}}},
{"width":256,"height":180,
"transform":[{"filter":"datum.r=='10-140' && datum.a=='No absorber'"}],
"layer":[
{"transform":[{"filter":"datum.x<2"}],"mark":{"type":"rect","fill":"#ffcc33"},"encoding":{"x":{"field":"lo","type":"quantitative","scale":{"domain":[-0.5,4.5],"nice":false,"zero":false},"axis":{"orient":"bottom","values":[0,1,2,3,4],"tickSize":8,"offset":-8,"labels":false,"title":null}},"x2":{"field":"hi"},"y":{"field":"bar","type":"quantitative","scale":{"domain":[0,0.835],"nice":false},"axis":{"orient":"left","values":[0,0.2,0.4,0.6,0.8],"tickSize":10,"offset":-10,"labels":false,"title":null}},"y2":{"datum":0}}},
{"transform":[{"filter":"datum.x<2"}],"mark":{"type":"rule","color":"black","strokeWidth":1.5},"encoding":{"x":{"field":"lo","type":"quantitative","scale":{"domain":[-0.5,4.5],"nice":false,"zero":false},"axis":{"orient":"bottom","values":[-0.4,-0.2,0,0.2,0.4,0.6,0.8,1,1.2,1.4,1.6,1.8,2,2.2,2.4,2.6,2.8,3,3.2,3.4,3.6,3.8,4,4.2,4.4],"tickSize":4,"offset":-4,"labels":false,"title":null}},"x2":{"field":"hi"},"y":{"field":"bar","type":"quantitative","scale":{"domain":[0,0.835],"nice":false},"axis":{"orient":"left","values":[0,0.05,0.1,0.15,0.2,0.25,0.3,0.35,0.4,0.45,0.5,0.55,0.6,0.65,0.7,0.75,0.8],"tickSize":5,"offset":-5,"labels":false,"title":null}}}},
{"transform":[{"filter":"datum.x<2"}],"mark":{"type":"rule","color":"black","strokeWidth":2,"strokeDash":[3,2]},"encoding":{"x":{"field":"hi","type":"quantitative","scale":{"domain":[-0.5,4.5],"nice":false,"zero":false},"axis":null}}},
{"transform":[{"filter":"datum.x<2"}],"mark":{"type":"rule","color":"black","strokeWidth":1.5},"encoding":{"x":{"field":"lo","type":"quantitative","scale":{"domain":[-0.5,4.5],"nice":false,"zero":false},"axis":null},"x2":{"field":"hi"},"y":{"field":"pt","type":"quantitative","scale":{"domain":[0,0.835],"nice":false},"axis":null}}},
{"mark":{"type":"circle","color":"black","opacity":1,"size":75},"encoding":{"x":{"field":"x","type":"quantitative","scale":{"domain":[-0.5,4.5],"nice":false,"zero":false},"axis":{"orient":"bottom","values":[0,1,2,3,4],"ticks":false,"labelFontSize":22,"labelPadding":2,"title":null}},"y":{"field":"pt","type":"quantitative","scale":{"domain":[0,0.835],"nice":false},"axis":{"orient":"left","values":[0,0.2,0.4,0.6,0.8],"ticks":false,"labelFontSize":20,"labelPadding":4,"title":null,"labelExpr":"datum.value == 0 ? '0' : format(datum.value, '.1f')"}}}},
{"transform":[{"filter":"datum.x==0"}],"mark":{"type":"text","text":"MICE Internal","align":"right","baseline":"middle","fontSize":10,"fontWeight":"bold","color":"black"},"encoding":{"x":{"datum":4.31,"type":"quantitative","scale":{"domain":[-0.5,4.5],"nice":false,"zero":false},"axis":null},"y":{"datum":0.753,"type":"quantitative","scale":{"domain":[0,0.835],"nice":false},"axis":null}}}
],"resolve":{"axis":{"x":"independent","y":"independent"}}},
{"width":259,"height":180,
"transform":[{"filter":"datum.r=='10-140' && datum.a=='Empty LH2'"}],
"layer":[
{"transform":[{"filter":"datum.x<2"}],"mark":{"type":"rect","fill":"#ffcc33"},"encoding":{"x":{"field":"lo","type":"quantitative","scale":{"domain":[-0.5,4.5],"nice":false,"zero":false},"axis":{"orient":"bottom","values":[0,1,2,3,4],"tickSize":8,"offset":-8,"labels":false,"title":null}},"x2":{"field":"hi"},"y":{"field":"bar","type":"quantitative","scale":{"domain":[0,0.835],"nice":false},"axis":{"orient":"left","values":[0,0.2,0.4,0.6,0.8],"tickSize":10,"offset":-10,"labels":false,"title":null}},"y2":{"datum":0}}},
{"transform":[{"filter":"datum.x<2"}],"mark":{"type":"rule","color":"black","strokeWidth":1.5},"encoding":{"x":{"field":"lo","type":"quantitative","scale":{"domain":[-0.5,4.5],"nice":false,"zero":false},"axis":{"orient":"bottom","values":[-0.4,-0.2,0,0.2,0.4,0.6,0.8,1,1.2,1.4,1.6,1.8,2,2.2,2.4,2.6,2.8,3,3.2,3.4,3.6,3.8,4,4.2,4.4],"tickSize":4,"offset":-4,"labels":false,"title":null}},"x2":{"field":"hi"},"y":{"field":"bar","type":"quantitative","scale":{"domain":[0,0.835],"nice":false},"axis":{"orient":"left","values":[0,0.05,0.1,0.15,0.2,0.25,0.3,0.35,0.4,0.45,0.5,0.55,0.6,0.65,0.7,0.75,0.8],"tickSize":5,"offset":-5,"labels":false,"title":null}}}},
{"transform":[{"filter":"datum.x<2"}],"mark":{"type":"rule","color":"black","strokeWidth":2,"strokeDash":[3,2]},"encoding":{"x":{"field":"hi","type":"quantitative","scale":{"domain":[-0.5,4.5],"nice":false,"zero":false},"axis":null}}},
{"transform":[{"filter":"datum.x<2"}],"mark":{"type":"rule","color":"black","strokeWidth":1.5},"encoding":{"x":{"field":"lo","type":"quantitative","scale":{"domain":[-0.5,4.5],"nice":false,"zero":false},"axis":null},"x2":{"field":"hi"},"y":{"field":"pt","type":"quantitative","scale":{"domain":[0,0.835],"nice":false},"axis":null}}},
{"mark":{"type":"circle","color":"black","opacity":1,"size":75},"encoding":{"x":{"field":"x","type":"quantitative","scale":{"domain":[-0.5,4.5],"nice":false,"zero":false},"axis":{"orient":"bottom","values":[0,1,2,3,4],"ticks":false,"labelFontSize":22,"labelPadding":2,"title":"Number of tracks in TKU","titleFontSize":32,"titleFontWeight":"bold","titleX":305,"titleY":70,"titleAlign":"center","titleBaseline":"alphabetic"}},"y":{"field":"pt","type":"quantitative","scale":{"domain":[0,0.835],"nice":false},"axis":null}}},
{"transform":[{"filter":"datum.x==0"}],"mark":{"type":"text","text":"MICE Internal","align":"right","baseline":"middle","fontSize":10,"fontWeight":"bold","color":"black"},"encoding":{"x":{"datum":4.31,"type":"quantitative","scale":{"domain":[-0.5,4.5],"nice":false,"zero":false},"axis":null},"y":{"datum":0.753,"type":"quantitative","scale":{"domain":[0,0.835],"nice":false},"axis":null}}}
],"resolve":{"axis":{"x":"independent","y":"independent"}}},
{"width":259,"height":180,
"transform":[{"filter":"datum.r=='10-140' && datum.a=='Full LH2'"}],
"layer":[
{"transform":[{"filter":"datum.x<2"}],"mark":{"type":"rect","fill":"#ffcc33"},"encoding":{"x":{"field":"lo","type":"quantitative","scale":{"domain":[-0.5,4.5],"nice":false,"zero":false},"axis":{"orient":"bottom","values":[0,1,2,3,4],"tickSize":8,"offset":-8,"labels":false,"title":null}},"x2":{"field":"hi"},"y":{"field":"bar","type":"quantitative","scale":{"domain":[0,0.835],"nice":false},"axis":{"orient":"left","values":[0,0.2,0.4,0.6,0.8],"tickSize":10,"offset":-10,"labels":false,"title":null}},"y2":{"datum":0}}},
{"transform":[{"filter":"datum.x<2"}],"mark":{"type":"rule","color":"black","strokeWidth":1.5},"encoding":{"x":{"field":"lo","type":"quantitative","scale":{"domain":[-0.5,4.5],"nice":false,"zero":false},"axis":{"orient":"bottom","values":[-0.4,-0.2,0,0.2,0.4,0.6,0.8,1,1.2,1.4,1.6,1.8,2,2.2,2.4,2.6,2.8,3,3.2,3.4,3.6,3.8,4,4.2,4.4],"tickSize":4,"offset":-4,"labels":false,"title":null}},"x2":{"field":"hi"},"y":{"field":"bar","type":"quantitative","scale":{"domain":[0,0.835],"nice":false},"axis":{"orient":"left","values":[0,0.05,0.1,0.15,0.2,0.25,0.3,0.35,0.4,0.45,0.5,0.55,0.6,0.65,0.7,0.75,0.8],"tickSize":5,"offset":-5,"labels":false,"title":null}}}},
{"transform":[{"filter":"datum.x<2"}],"mark":{"type":"rule","color":"black","strokeWidth":2,"strokeDash":[3,2]},"encoding":{"x":{"field":"hi","type":"quantitative","scale":{"domain":[-0.5,4.5],"nice":false,"zero":false},"axis":null}}},
{"transform":[{"filter":"datum.x<2"}],"mark":{"type":"rule","color":"black","strokeWidth":1.5},"encoding":{"x":{"field":"lo","type":"quantitative","scale":{"domain":[-0.5,4.5],"nice":false,"zero":false},"axis":null},"x2":{"field":"hi"},"y":{"field":"pt","type":"quantitative","scale":{"domain":[0,0.835],"nice":false},"axis":null}}},
{"mark":{"type":"circle","color":"black","opacity":1,"size":75},"encoding":{"x":{"field":"x","type":"quantitative","scale":{"domain":[-0.5,4.5],"nice":false,"zero":false},"axis":{"orient":"bottom","values":[0,1,2,3,4],"ticks":false,"labelFontSize":22,"labelPadding":2,"title":null}},"y":{"field":"pt","type":"quantitative","scale":{"domain":[0,0.835],"nice":false},"axis":null}}},
{"transform":[{"filter":"datum.x==0"}],"mark":{"type":"text","text":"MICE Internal","align":"right","baseline":"middle","fontSize":10,"fontWeight":"bold","color":"black"},"encoding":{"x":{"datum":4.31,"type":"quantitative","scale":{"domain":[-0.5,4.5],"nice":false,"zero":false},"axis":null},"y":{"datum":0.753,"type":"quantitative","scale":{"domain":[0,0.835],"nice":false},"axis":null}}}
],"resolve":{"axis":{"x":"independent","y":"independent"}}},
{"width":259,"height":180,
"transform":[{"filter":"datum.r=='10-140' && datum.a=='LiH'"}],
"layer":[
{"transform":[{"filter":"datum.x<2"}],"mark":{"type":"rect","fill":"#ffcc33"},"encoding":{"x":{"field":"lo","type":"quantitative","scale":{"domain":[-0.5,4.5],"nice":false,"zero":false},"axis":{"orient":"bottom","values":[0,1,2,3,4],"tickSize":8,"offset":-8,"labels":false,"title":null}},"x2":{"field":"hi"},"y":{"field":"bar","type":"quantitative","scale":{"domain":[0,0.835],"nice":false},"axis":{"orient":"left","values":[0,0.2,0.4,0.6,0.8],"tickSize":10,"offset":-10,"labels":false,"title":null}},"y2":{"datum":0}}},
{"transform":[{"filter":"datum.x<2"}],"mark":{"type":"rule","color":"black","strokeWidth":1.5},"encoding":{"x":{"field":"lo","type":"quantitative","scale":{"domain":[-0.5,4.5],"nice":false,"zero":false},"axis":{"orient":"bottom","values":[-0.4,-0.2,0,0.2,0.4,0.6,0.8,1,1.2,1.4,1.6,1.8,2,2.2,2.4,2.6,2.8,3,3.2,3.4,3.6,3.8,4,4.2,4.4],"tickSize":4,"offset":-4,"labels":false,"title":null}},"x2":{"field":"hi"},"y":{"field":"bar","type":"quantitative","scale":{"domain":[0,0.835],"nice":false},"axis":{"orient":"left","values":[0,0.05,0.1,0.15,0.2,0.25,0.3,0.35,0.4,0.45,0.5,0.55,0.6,0.65,0.7,0.75,0.8],"tickSize":5,"offset":-5,"labels":false,"title":null}}}},
{"transform":[{"filter":"datum.x<2"}],"mark":{"type":"rule","color":"black","strokeWidth":2,"strokeDash":[3,2]},"encoding":{"x":{"field":"hi","type":"quantitative","scale":{"domain":[-0.5,4.5],"nice":false,"zero":false},"axis":null}}},
{"transform":[{"filter":"datum.x<2"}],"mark":{"type":"rule","color":"black","strokeWidth":1.5},"encoding":{"x":{"field":"lo","type":"quantitative","scale":{"domain":[-0.5,4.5],"nice":false,"zero":false},"axis":null},"x2":{"field":"hi"},"y":{"field":"pt","type":"quantitative","scale":{"domain":[0,0.835],"nice":false},"axis":{"orient":"right","values":[],"ticks":false,"labels":false,"title":"10-140","titleAngle":0,"titleFontSize":36,"titleFontWeight":"bold","titleAlign":"left","titleBaseline":"middle","titleX":44,"titleY":117}}}},
{"mark":{"type":"circle","color":"black","opacity":1,"size":75},"encoding":{"x":{"field":"x","type":"quantitative","scale":{"domain":[-0.5,4.5],"nice":false,"zero":false},"axis":{"orient":"bottom","values":[0,1,2,3,4],"ticks":false,"labelFontSize":22,"labelPadding":2,"title":null}},"y":{"field":"pt","type":"quantitative","scale":{"domain":[0,0.835],"nice":false},"axis":null}}},
{"transform":[{"filter":"datum.x==0"}],"mark":{"type":"text","text":"MICE Internal","align":"right","baseline":"middle","fontSize":10,"fontWeight":"bold","color":"black"},"encoding":{"x":{"datum":4.31,"type":"quantitative","scale":{"domain":[-0.5,4.5],"nice":false,"zero":false},"axis":null},"y":{"datum":0.753,"type":"quantitative","scale":{"domain":[0,0.835],"nice":false},"axis":null}}}
],"resolve":{"axis":{"x":"independent","y":"independent"}}}
]
}
